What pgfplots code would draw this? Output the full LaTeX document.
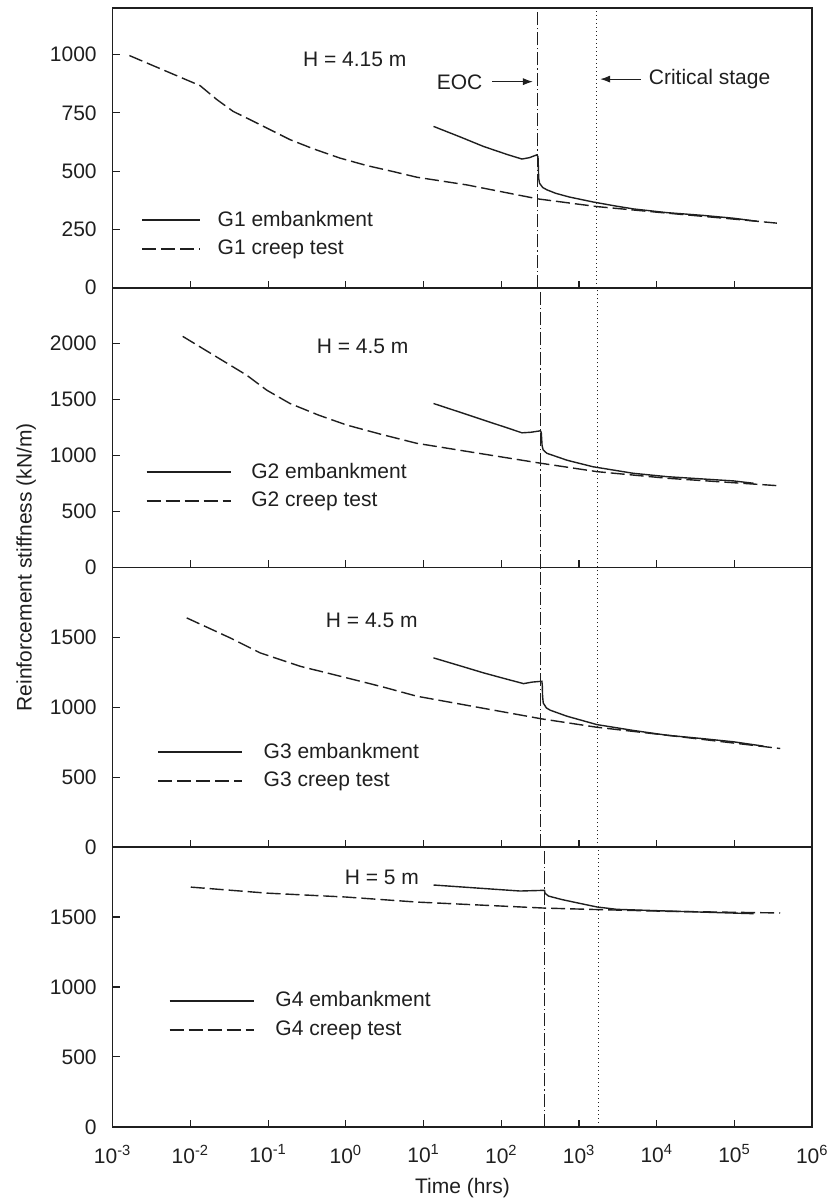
\documentclass[border=0pt]{standalone}
\usepackage{fontspec}
\setmainfont{Liberation Sans}
\usepackage{pgfplots}
\pgfplotsset{compat=1.18}
\usetikzlibrary{arrows.meta}
\newcommand{\fs}{\fontsize{10.5}{12.6}\selectfont}
\definecolor{ink}{gray}{0.12}

\tikzset{
  lab/.style={font=\fs, text=ink, inner sep=0pt},
  pointer/.style={line width=0.5pt, draw=ink, -{Latex[length=5pt,width=3.6pt]}},
  embline/.style={line width=0.7pt, draw=ink, solid},
  creepline/.style={line width=0.7pt, draw=ink, dash pattern=on 7pt off 2.5pt},
  eocline/.style={line width=0.55pt, draw=ink, dash pattern=on 6.5pt off 1.5pt on 0.6pt off 1.5pt},
  critline/.style={line width=0.5pt, draw=ink, dash pattern=on 0.6pt off 1.4pt},
}

\begin{document}
\begin{tikzpicture}

% ---------------- G1 ----------------
\begin{axis}[at={(56.35pt,-143.85pt)}, anchor=south west,
  xmode=log, xmin=1e-3, xmax=1e6, ymin=0, ymax=1200,
  scale only axis, width=349.8pt, height=139.85pt,
  xtick={1e-3,1e-2,1e-1,1e0,1e1,1e2,1e3,1e4,1e5,1e6}, xticklabels={},
  ytick={0,250,500,750,1000},
  minor tick length=0pt, tick align=inside, xtick pos=bottom, ytick pos=left,
  major tick length=3.5pt,
  axis line style={line width=0.8pt, draw=ink},
  major tick style={line width=0.6pt, draw=ink},
  tick label style={font=\fs, text=ink},
  yticklabel style={xshift=-4.5pt},
  scaled y ticks=false,
  /pgf/number format/assume math mode=true,
  /pgf/number format/1000 sep={},
  clip=false,
  legend cell align=left,
  legend style={draw=none, fill=none, font=\fs, text=ink, anchor=west,
    inner sep=0pt, outer sep=0pt, row sep=1.5pt, column sep=6.3pt, at={(0.0415,0.191)}},
  legend image code/.code={\draw[#1] (0pt,0pt) -- (29pt,0pt);}]
\addplot[embline] coordinates {(13.4,692) (30,646) (58.9,606) (120,571) (184,552) (230,558) (286,570) (296,562) (299,520) (302,470) (310,448) (340,430) (385,420) (500,405) (750,389) (1500,368) (3000,350) (5000,338) (13500,322) (40000,310) (97000,298) (195000,285)};
\addlegendentry{G1 embankment}
\addplot[creepline] coordinates {(0.00164,996) (0.0133,867) (0.0219,807) (0.0356,756) (0.0585,721) (0.096,685) (0.192,635) (0.38,596) (0.84,556) (1.86,524) (4.08,498) (8.17,474) (36,441) (295,381) (1694,348) (13500,320) (100000,294) (350000,277)};
\addlegendentry{G1 creep test}
\addplot[eocline, forget plot] coordinates {(295,0) (295,1200)};
\addplot[critline, forget plot] coordinates {(1694,0) (1694,1200)};
\node[lab] at (axis cs:1.3,978) {H = 4.15 m};
\node[lab] at (axis cs:29,883) {EOC};
\draw[pointer] (axis cs:76.7,884) -- (axis cs:254,884);
\draw[pointer] (axis cs:6237,895) -- (axis cs:1871,895);
\node[lab, anchor=base west] at (axis cs:7815,871) {Critical stage};
\end{axis}

% ---------------- G2 ----------------
\begin{axis}[at={(56.35pt,-283.7pt)}, anchor=south west,
  xmode=log, xmin=1e-3, xmax=1e6, ymin=0, ymax=2500,
  scale only axis, width=349.8pt, height=139.85pt,
  xtick={1e-3,1e-2,1e-1,1e0,1e1,1e2,1e3,1e4,1e5,1e6}, xticklabels={},
  ytick={0,500,1000,1500,2000},
  minor tick length=0pt, tick align=inside, xtick pos=bottom, ytick pos=left,
  major tick length=3.5pt,
  axis line style={line width=0.8pt, draw=ink},
  major tick style={line width=0.6pt, draw=ink},
  tick label style={font=\fs, text=ink},
  yticklabel style={xshift=-4.5pt},
  scaled y ticks=false,
  /pgf/number format/assume math mode=true,
  /pgf/number format/1000 sep={},
  clip=false,
  legend cell align=left,
  legend style={draw=none, fill=none, font=\fs, text=ink, anchor=west,
    inner sep=0pt, outer sep=0pt, row sep=1.5pt, column sep=7.7pt, at={(0.0476,0.290)}},
  legend image code/.code={\draw[#1] (0pt,0pt) -- (42.3pt,0pt);}]
\addplot[embline] coordinates {(13.4,1465) (30,1385) (58.9,1317) (110,1255) (184,1203) (240,1208) (318,1221) (326,1205) (330,1150) (334,1090) (345,1050) (385,1020) (700,958) (1500,900) (5000,841) (13500,811) (40000,790) (97000,773) (176000,752)};
\addlegendentry{G2 embankment}
\addplot[creepline] coordinates {(0.00796,2065) (0.053,1718) (0.096,1584) (0.191,1465) (0.45,1360) (1.03,1272) (3,1185) (8.2,1109) (36,1037) (322,931) (1694,856) (13500,797) (350000,731)};
\addlegendentry{G2 creep test}
\addplot[eocline, forget plot] coordinates {(322,0) (322,2500)};
\addplot[critline, forget plot] coordinates {(1745,0) (1745,2500)};
\node[lab] at (axis cs:1.64,1974) {H = 4.5 m};
\end{axis}

% ---------------- G3 ----------------
\begin{axis}[at={(56.35pt,-423.55pt)}, anchor=south west,
  xmode=log, xmin=1e-3, xmax=1e6, ymin=0, ymax=2000,
  scale only axis, width=349.8pt, height=139.85pt,
  xtick={1e-3,1e-2,1e-1,1e0,1e1,1e2,1e3,1e4,1e5,1e6}, xticklabels={},
  ytick={0,500,1000,1500},
  minor tick length=0pt, tick align=inside, xtick pos=bottom, ytick pos=left,
  major tick length=3.5pt,
  axis line style={line width=0.8pt, draw=ink},
  major tick style={line width=0.6pt, draw=ink},
  tick label style={font=\fs, text=ink},
  yticklabel style={xshift=-4.5pt},
  scaled y ticks=false,
  /pgf/number format/assume math mode=true,
  /pgf/number format/1000 sep={},
  clip=false,
  legend cell align=left,
  legend style={draw=none, fill=none, font=\fs, text=ink, anchor=west,
    inner sep=0pt, outer sep=0pt, row sep=1.5pt, column sep=8.3pt, at={(0.0638,0.289)}},
  legend image code/.code={\draw[#1] (0pt,0pt) -- (42.2pt,0pt);}]
\addplot[embline] coordinates {(13.4,1353) (30,1295) (58.9,1246) (110,1205) (193,1169) (250,1180) (332,1186) (336,1160) (339,1080) (346,1030) (380,995) (425,979) (697,936) (1694,876) (5000,834) (13500,800) (40000,775) (97000,753) (236000,722)};
\addlegendentry{G3 embankment}
\addplot[creepline] coordinates {(0.00895,1639) (0.0324,1496) (0.0787,1389) (0.258,1293) (1.03,1210) (3,1145) (8.17,1079) (330,917) (1694,857) (13500,800) (387000,705)};
\addlegendentry{G3 creep test}
\addplot[eocline, forget plot] coordinates {(322,0) (322,2000)};
\addplot[critline, forget plot] coordinates {(1745,0) (1745,2000)};
\node[lab] at (axis cs:2.15,1619) {H = 4.5 m};
\end{axis}

% ---------------- G4 ----------------
\begin{axis}[at={(56.35pt,-563.4pt)}, anchor=south west,
  xmode=log, xmin=1e-3, xmax=1e6, ymin=0, ymax=2000,
  scale only axis, width=349.8pt, height=139.85pt,
  xtick={1e-3,1e-2,1e-1,1e0,1e1,1e2,1e3,1e4,1e5,1e6},
  xticklabels={10\textsuperscript{-3},10\textsuperscript{-2},10\textsuperscript{-1},10\textsuperscript{0},10\textsuperscript{1},10\textsuperscript{2},10\textsuperscript{3},10\textsuperscript{4},10\textsuperscript{5},10\textsuperscript{6}},
  xticklabel style={yshift=-5.5pt},
  ytick={0,500,1000,1500},
  minor tick length=0pt, tick align=inside, xtick pos=bottom, ytick pos=left,
  major tick length=3.5pt,
  axis line style={line width=0.8pt, draw=ink},
  major tick style={line width=0.6pt, draw=ink},
  tick label style={font=\fs, text=ink},
  yticklabel style={xshift=-4.5pt},
  scaled y ticks=false,
  /pgf/number format/assume math mode=true,
  /pgf/number format/1000 sep={},
  clip=false,
  legend cell align=left,
  legend style={draw=none, fill=none, font=\fs, text=ink, anchor=west,
    inner sep=0pt, outer sep=0pt, row sep=1.5pt, column sep=8.3pt, at={(0.0805,0.399)}},
  legend image code/.code={\draw[#1] (0pt,0pt) -- (42.2pt,0pt);}]
\addplot[embline] coordinates {(13.4,1729) (174,1686) (359,1691) (365,1670) (404,1650) (600,1625) (850,1607) (1694,1572) (3060,1555) (13500,1543) (176000,1524)};
\addlegendentry{G4 embankment}
\addplot[creepline] coordinates {(0.0101,1714) (0.096,1671) (1,1643) (8.17,1607) (359,1564) (1800,1553) (13500,1541) (387000,1529)};
\addlegendentry{G4 creep test}
\addplot[eocline, forget plot] coordinates {(359,0) (359,2000)};
\addplot[critline, forget plot] coordinates {(1800,0) (1800,2000)};
\node[lab] at (axis cs:2.9,1786) {H = 5 m};
\end{axis}

\node[lab, rotate=90, anchor=base] at (15.85pt,-283.7pt) {Reinforcement stiffness (kN/m)};
\node[lab, anchor=base] at (231.25pt,-596.75pt) {Time (hrs)};

\pgfresetboundingbox
\path[use as bounding box] (0pt,0pt) rectangle (415.5pt,-599.5pt);
\end{tikzpicture}
\end{document}
